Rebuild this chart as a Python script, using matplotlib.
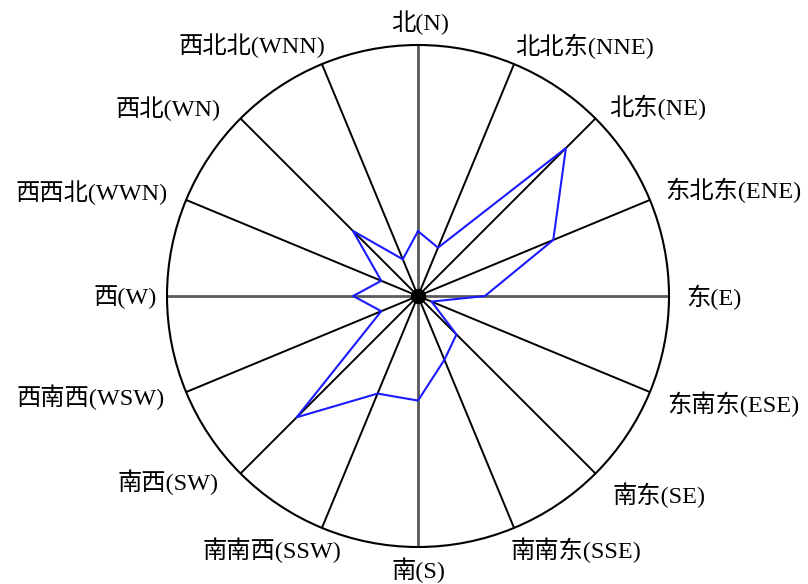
import numpy as np
import matplotlib
matplotlib.use("Agg")
import matplotlib.pyplot as plt

plt.rcParams['font.family'] = ['Liberation Serif', 'Noto Sans CJK SC', 'DejaVu Sans']

directions = ['北(N)', '北北东(NNE)', '北东(NE)', '东北东(ENE)', '东(E)', '东南东(ESE)',
              '南东(SE)', '南南东(SSE)', '南(S)', '南南西(SSW)', '南西(SW)', '西南西(WSW)',
              '西(W)', '西西北(WWN)', '西北(WN)', '西北北(WNN)']
values = [3.1, 2.5, 10.0, 7.0, 3.2, 0.7, 2.6, 3.3, 5.0, 5.05, 8.2, 1.9, 3.1, 1.9, 4.4, 1.9]
rmax = 12.0

# label placement offsets (pixels) from the end of each spoke: (dx, dy_down, ha)
label_offsets = [(2, -22, 'center'), (1, -18, 'left'), (14, -11, 'left'), (15, -10, 'left'),
                 (17, 1, 'left'), (17, 12, 'left'), (17, 22, 'left'), (-4, 22, 'left'),
                 (1, 23, 'center'), (19, 22, 'right'), (-22, 9, 'right'), (-21, 5, 'right'),
                 (-10, 1, 'right'), (-18, -7, 'right'), (-20, -10, 'right'), (3, -18, 'right')]

n = len(directions)
theta = np.deg2rad(np.arange(n) * 360.0 / n)

fig = plt.figure(figsize=(8.08, 5.84), dpi=100)
cx, cy, R = 418, 296, 251
W, H = 808, 584
ax = fig.add_axes([(cx - R) / W, (H - cy - R) / H, 2 * R / W, 2 * R / H], projection='polar')
ax.set_theta_zero_location('N')
ax.set_theta_direction(-1)
ax.set_ylim(0, rmax)
ax.set_xticks([])
ax.set_yticks([])
ax.grid(False)
ax.spines['polar'].set_linewidth(1.5)
ax.spines['polar'].set_color('black')

for i, t in enumerate(theta):
    if i % 4 == 0:
        ax.plot([t, t], [0, rmax], color='#5a5a5a', lw=2.0, zorder=2)
    else:
        ax.plot([t, t], [0, rmax], color='black', lw=1.4, zorder=2)

ax.plot(np.append(theta, theta[0]), values + values[:1], color='#1a1aff', lw=1.5, zorder=3)
ax.plot([0], [0], 'o', color='black', markersize=10, zorder=4)

for t, lab, (dx, dy, ha) in zip(theta, directions, label_offsets):
    ax.annotate(lab, xy=(t, rmax), xytext=(dx, -dy), textcoords='offset pixels',
                ha=ha, va='center', fontsize=17.5, annotation_clip=False)

fig.savefig('out.png', dpi=100)
